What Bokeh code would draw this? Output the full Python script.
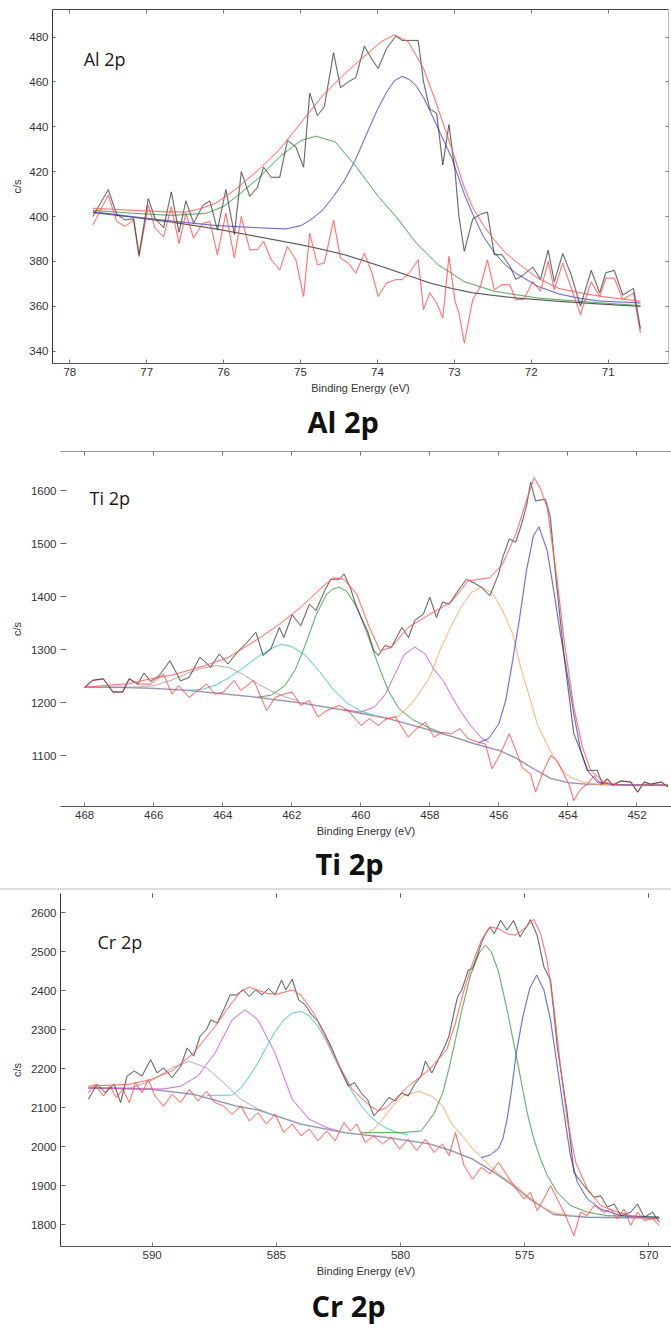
from bokeh.plotting import figure
from bokeh.models import Range1d, FixedTicker, LinearAxis, Label, Title, Div
from bokeh.layouts import column
from bokeh.embed import file_html
from bokeh.resources import INLINE

# ---------------- Al 2p ----------------
al_e = [77.70, 77.50, 77.39, 77.28, 77.17, 77.10, 76.98, 76.89, 76.78, 76.68, 76.58, 76.49, 76.39, 76.27, 76.18,
        76.08, 75.97, 75.86, 75.77, 75.66, 75.56, 75.48, 75.38, 75.27, 75.17, 75.06, 74.96, 74.88, 74.78, 74.69,
        74.57, 74.48, 74.38, 74.28, 74.17, 74.07, 73.99, 73.88, 73.76, 73.68, 73.57, 73.47, 73.40, 73.32, 73.23,
        73.15, 73.07, 72.99, 72.94, 72.87, 72.76, 72.66, 72.57, 72.48, 72.38, 72.28, 72.20, 72.10, 71.98, 71.88,
        71.78, 71.70, 71.59, 71.48, 71.36, 71.22, 71.11, 71.03, 70.92, 70.81, 70.67, 70.58]
al_raw = [400, 412, 401, 398.5, 399, 383, 408, 399, 395, 411, 393, 407, 397, 405, 407,
          394, 412, 392, 420, 409, 413, 422, 417.5, 417.5, 434, 431, 422, 455, 445, 449,
          473, 457.5, 460, 462, 476, 470, 466, 475, 480.5, 478.5, 478.5, 478.5, 460, 448, 446,
          423, 441, 420, 400, 384.5, 399, 401, 402, 383, 383, 378, 372, 374, 377.5, 372,
          385, 371, 383.5, 374, 360, 376, 366, 375, 376, 365, 368, 350]
al_res = [396.3, 409.6, 397.8, 395.6, 398.5, 382.2, 405, 394.8, 391, 404.4, 388, 401.5, 390.4, 397, 397.8,
          383, 401.5, 381.5, 400, 385.2, 385.2, 389, 380.7, 376.3, 386.7, 380.7, 364.4, 392.6, 378.5, 379.3,
          398.5, 381.5, 379.3, 374.8, 383.7, 374.8, 364.4, 370.4, 371.9, 371.9, 375.6, 380.7, 358.5, 366, 361.5,
          354.8, 382.2, 362.2, 357, 343.7, 363, 368.9, 380.7, 367.4, 369.6, 369.6, 363, 363, 371, 366.7,
          380, 367.4, 379.3, 368.1, 356.3, 371, 364.4, 372.6, 372.6, 363, 366, 348.1]
al_env_e = [77.70, 77.20, 76.80, 76.50, 76.30, 76.10, 75.85, 75.55, 75.27, 74.99, 74.71, 74.43, 74.15, 73.95, 73.78,
            73.60, 73.40, 73.26, 73.04, 72.87, 72.76, 72.62, 72.48, 72.34, 72.20, 71.92, 71.64, 71.36, 71.09, 70.80, 70.58]
al_env = [403.7, 402.8, 402.2, 402.0, 403.5, 406.0, 412.0, 420.7, 430.0, 442.0, 454.0, 463.5, 472.0, 478.0, 481.0,
          478.0, 466.0, 453.0, 431.0, 413.0, 404.0, 396.0, 389.6, 384.0, 380.0, 372.6, 368.0, 366.0, 364.4, 363.2, 362.2]
al_blue_e = [77.70, 77.20, 76.67, 76.10, 75.55, 75.19, 74.99, 74.85, 74.71, 74.57, 74.43, 74.29, 74.15, 74.01, 73.88,
             73.78, 73.68, 73.58, 73.49, 73.40, 73.32, 73.18, 73.04, 72.87, 72.76, 72.62, 72.48, 72.34, 72.20, 71.92,
             71.64, 71.36, 71.09, 70.58]
al_blue = [402.2, 400.0, 398.0, 396.0, 395.0, 394.5, 396.0, 399.0, 403.0, 409.0, 416.0, 425.0, 436.0, 447.0, 455.5,
           460.5, 462.5, 461.0, 458.0, 453.0, 447.4, 437.0, 426.7, 410.0, 401.0, 391.0, 384.0, 378.5, 374.8, 369.0,
           365.5, 363.5, 362.3, 361.5]
al_green_e = [77.70, 77.20, 76.67, 76.22, 76.00, 75.83, 75.55, 75.27, 74.99, 74.80, 74.55, 74.27, 73.99, 73.76, 73.49,
              73.21, 72.87, 72.48, 71.92, 71.09, 70.58]
al_green = [402.8, 401.5, 400.5, 401.5, 404.5, 409.0, 417.0, 426.7, 434.0, 435.8, 433.3, 422.0, 409.0, 400.0, 388.0,
            378.5, 371.0, 366.7, 363.7, 361.5, 360.3]
al_bg_e = [77.70, 77.20, 76.67, 76.10, 75.55, 74.99, 74.71, 74.43, 74.15, 73.88, 73.60, 73.32, 73.04, 72.76, 72.48,
           72.20, 71.64, 71.10, 70.58]
al_bg = [401.8, 399.8, 397.5, 394.5, 391.0, 387.4, 385.3, 383.0, 380.0, 377.0, 373.7, 370.4, 368.0, 366.0, 364.8,
         363.7, 362.2, 361.0, 360.0]
al_xticks = [71, 72, 73, 74, 75, 76, 77, 78]
al_yticks = [340, 360, 380, 400, 420, 440, 460, 480]

# ---------------- Ti 2p ----------------
ti_e = [468.00, 467.77, 467.46, 467.18, 466.90, 466.71, 466.46, 466.28, 466.09, 465.84, 465.53, 465.22, 464.97, 464.66,
        464.35, 464.10, 463.85, 463.54, 463.35, 463.04, 462.83, 462.61, 462.36, 462.23, 461.99, 461.74, 461.49, 461.30,
        461.05, 460.87, 460.62, 460.49, 460.31, 460.12, 459.93, 459.81, 459.62, 459.49, 459.30, 459.12, 458.81, 458.62,
        458.44, 458.19, 458.00, 457.81, 457.63, 457.44, 457.19, 456.94, 456.75, 456.51, 456.26, 456.01, 455.89, 455.70,
        455.51, 455.33, 455.20, 455.08, 454.94, 454.65, 454.51, 454.36, 454.12, 453.83, 453.63, 453.43, 453.15, 453.00,
        452.86, 452.70, 452.47, 452.18, 451.98, 451.79, 451.60, 451.30, 451.10]
ti_raw = [1229, 1242, 1245, 1220, 1220, 1245, 1235, 1256, 1240, 1251, 1279, 1241, 1248, 1286,
          1267, 1292, 1273, 1298, 1310, 1333, 1289, 1301, 1342, 1323, 1366, 1345, 1386, 1374,
          1411, 1433, 1433, 1443, 1418, 1380, 1352, 1336, 1298, 1289, 1308, 1304, 1342, 1323,
          1355, 1367, 1399, 1361, 1390, 1386, 1411, 1433, 1427, 1418, 1402, 1443, 1474, 1509,
          1503, 1540, 1572, 1616, 1581, 1584, 1550, 1443, 1292, 1141, 1109, 1072, 1072, 1046,
          1056, 1044, 1052, 1050, 1031, 1050, 1046, 1050, 1041]
ti_res_e = [468.00, 467.77, 467.46, 467.18, 466.90, 466.71, 466.46, 466.09, 465.72, 465.47, 465.28, 464.97, 464.78,
            464.47, 464.22, 463.98, 463.67, 463.48, 463.10, 462.73, 462.48, 462.23, 461.99, 461.74, 461.49, 461.24,
            460.99, 460.62, 460.37, 459.99, 459.75, 459.50, 459.25, 459.00, 458.63, 458.38, 458.13, 457.88, 457.63,
            457.38, 457.13, 456.89, 456.64, 456.39, 456.20, 455.96, 455.70, 455.51, 455.33, 455.08, 454.94, 454.70,
            454.50, 454.31, 454.12, 453.97, 453.83, 453.63, 453.44, 453.24, 453.05, 452.86, 452.70, 452.47, 452.18,
            451.98, 451.79, 451.60, 451.30, 451.10]
ti_res = [1229, 1242, 1245, 1220, 1220, 1245, 1235, 1235, 1254, 1216, 1232, 1210, 1220,
          1235, 1216, 1220, 1242, 1223, 1242, 1185, 1210, 1216, 1220, 1195, 1204, 1173,
          1185, 1195, 1185, 1157, 1170, 1157, 1170, 1173, 1135, 1151, 1163, 1135, 1144,
          1141, 1151, 1132, 1126, 1122, 1075, 1103, 1141, 1110, 1078, 1065, 1031, 1072,
          1100, 1090, 1065, 1046, 1015, 1037, 1046, 1062, 1046, 1056, 1044, 1052, 1050,
          1031, 1050, 1046, 1050, 1041]
ti_env_e = [468.00, 466.71, 466.09, 465.47, 464.60, 463.85, 462.98, 462.36, 461.74, 461.12, 460.80, 460.49, 460.12,
            459.75, 459.44, 459.12, 458.63, 458.00, 457.38, 456.89, 456.26, 455.89, 455.51, 455.14, 454.98, 454.80,
            454.60, 454.31, 454.11, 453.83, 453.58, 453.34, 452.96, 452.50, 451.10]
ti_env = [1229, 1236, 1245, 1252, 1268, 1285, 1320, 1348, 1380, 1418, 1436, 1433, 1405,
          1342, 1298, 1304, 1342, 1367, 1390, 1430, 1436, 1462, 1518, 1594, 1625, 1605,
          1568, 1430, 1317, 1191, 1116, 1072, 1050, 1044, 1044]
ti_bg_e = [468.0, 467.0, 466.0, 465.0, 464.2, 463.0, 461.7, 460.5, 459.2, 458.0, 457.3, 456.7, 456.0, 455.5, 455.0,
           454.5, 454.0, 453.5, 453.0, 452.0, 451.1]
ti_bg = [1229, 1229, 1227, 1223, 1218, 1210, 1199, 1186, 1170, 1148, 1135, 1122, 1110, 1095, 1075,
         1057, 1049, 1046, 1045, 1044, 1044]
ti_gray_e = [466.6, 466.0, 465.5, 465.0, 464.6, 464.2, 463.8, 463.4, 463.0, 462.6, 462.2, 461.8]
ti_gray = [1229, 1232, 1242, 1256, 1265, 1270, 1266, 1253, 1236, 1222, 1211, 1203]
ti_cyan_e = [465.0, 464.6, 464.2, 463.8, 463.4, 463.0, 462.6, 462.3, 462.0, 461.6, 461.2, 460.8, 460.4, 460.0, 459.6]
ti_cyan = [1223, 1225, 1233, 1248, 1266, 1286, 1302, 1310, 1306, 1289, 1259, 1225, 1199, 1184, 1176]
ti_green_e = [463.0, 462.6, 462.2, 461.9, 461.6, 461.3, 461.0, 460.8, 460.62, 460.4, 460.1, 459.8, 459.5, 459.2,
              458.9, 458.5, 458.0, 457.6]
ti_green = [1210, 1214, 1232, 1262, 1310, 1365, 1404, 1415, 1418, 1410, 1378, 1328, 1272, 1222,
            1189, 1168, 1152, 1141]
ti_mag_e = [460.5, 460.0, 459.6, 459.3, 459.0, 458.75, 458.44, 458.15, 457.9, 457.6, 457.35, 457.1, 456.8, 456.5, 456.3]
ti_mag = [1187, 1182, 1192, 1215, 1255, 1290, 1305, 1293, 1265, 1240, 1210, 1183, 1155, 1133, 1125]
ti_orange_e = [459.3, 458.9, 458.5, 458.0, 457.7, 457.4, 457.1, 456.8, 456.51, 456.2, 455.9, 455.6, 455.37, 455.1,
               454.89, 454.6, 454.41, 454.1, 453.92, 453.6, 453.2, 452.8]
ti_orange = [1168, 1175, 1200, 1248, 1300, 1342, 1380, 1408, 1418, 1408, 1375, 1330, 1267, 1208,
             1160, 1120, 1097, 1068, 1059, 1050, 1046, 1045]
ti_blue_e = [456.6, 456.3, 456.0, 455.8, 455.6, 455.4, 455.2, 455.0, 454.84, 454.6, 454.41, 454.22, 454.02, 453.83,
             453.63, 453.44, 453.15, 452.66, 451.1]
ti_blue = [1124, 1132, 1160, 1205, 1280, 1360, 1450, 1515, 1532, 1487, 1411, 1330, 1254, 1179,
           1109, 1072, 1050, 1045, 1044]
ti_xticks = [452, 454, 456, 458, 460, 462, 464, 466, 468]
ti_yticks = [1100, 1200, 1300, 1400, 1500, 1600]

# ---------------- Cr 2p ----------------
cr_e = [592.57, 592.22, 591.88, 591.53, 591.27, 591.01, 590.72, 590.41, 590.06, 589.80,
        589.54, 589.20, 588.85, 588.59, 588.33, 588.07, 587.81, 587.64, 587.38, 587.12,
        586.86, 586.60, 586.34, 586.09, 585.83, 585.57, 585.31, 585.05, 584.79, 584.62,
        584.36, 584.10, 583.84, 583.58, 583.32, 583.06, 582.80, 582.46, 582.11, 581.85,
        581.59, 581.33, 581.07, 580.73, 580.47, 580.21, 579.95, 579.69, 579.43, 579.17,
        579.00, 578.74, 578.48, 578.22, 578.05, 577.88, 577.70, 577.53, 577.27, 577.10,
        576.92, 576.75, 576.58, 576.40, 576.23, 575.97, 575.71, 575.45, 575.19, 574.93,
        574.77, 574.50, 574.23, 573.96, 573.69, 573.49, 573.29, 573.02, 572.62, 572.21,
        571.94, 571.67, 571.40, 571.13, 570.73, 570.46, 570.19, 569.85, 569.58]
cr_raw = [2121, 2160, 2138, 2160, 2113, 2181, 2194, 2181, 2223, 2189,
          2202, 2177, 2206, 2253, 2232, 2283, 2300, 2325, 2317, 2351,
          2389, 2389, 2402, 2385, 2402, 2389, 2406, 2389, 2427, 2402,
          2429, 2376, 2364, 2338, 2321, 2291, 2257, 2206, 2155, 2164,
          2138, 2121, 2079, 2104, 2126, 2117, 2138, 2130, 2160, 2181,
          2219, 2189, 2223, 2257, 2283, 2334, 2385, 2402, 2453, 2457,
          2487, 2521, 2546, 2563, 2546, 2580, 2555, 2580, 2538, 2563,
          2582, 2542, 2461, 2427, 2257, 2172, 2087, 1934, 1900, 1870,
          1874, 1845, 1853, 1823, 1832, 1853, 1819, 1832, 1806]
cr_res_e = [592.57, 592.31, 591.96, 591.70, 591.44, 591.18, 590.92, 590.67, 590.41, 590.15,
            589.89, 589.54, 589.20, 588.85, 588.50, 588.16, 587.81, 587.47, 587.12, 586.78,
            586.43, 586.09, 585.74, 585.40, 585.05, 584.70, 584.36, 584.01, 583.67, 583.32,
            582.97, 582.63, 582.28, 582.02, 581.76, 581.42, 581.07, 580.73, 580.38, 580.04,
            579.69, 579.35, 579.00, 578.65, 578.31, 578.05, 577.79, 577.44, 577.10, 576.75,
            576.40, 576.06, 575.71, 575.35, 575.03, 574.77, 574.50, 574.23, 573.96, 573.69,
            573.42, 573.02, 572.75, 572.48, 572.21, 571.81, 571.54, 571.27, 571.00, 570.73,
            570.46, 570.19, 569.85, 569.58]
cr_res = [2138, 2160, 2130, 2155, 2126, 2147, 2113, 2164, 2138, 2172,
          2130, 2104, 2134, 2113, 2147, 2117, 2142, 2113, 2104, 2083,
          2104, 2066, 2087, 2058, 2083, 2036, 2058, 2028, 2045, 2015,
          2040, 2015, 2062, 2040, 2058, 2011, 2028, 2007, 2024, 1994,
          2019, 1990, 2019, 1985, 2007, 1977, 2036, 1951, 1917, 1947,
          1930, 1960, 1926, 1892, 1866, 1883, 1836, 1866, 1900, 1866,
          1832, 1772, 1832, 1823, 1849, 1832, 1840, 1815, 1840, 1798,
          1832, 1811, 1815, 1798]
cr_env_e = [592.57, 590.92, 590.06, 589.20, 588.33, 587.47, 586.95, 586.43, 586.09, 585.39,
            584.96, 584.36, 584.01, 583.49, 582.97, 582.46, 581.94, 581.25, 580.90, 580.56,
            579.69, 578.83, 578.13, 577.79, 577.44, 577.10, 576.75, 576.40, 576.06, 575.71,
            575.37, 575.02, 574.64, 574.36, 574.10, 573.83, 573.56, 573.29, 572.95, 572.48,
            571.94, 571.27, 570.46, 569.58]
cr_env = [2155, 2160, 2172, 2194, 2240, 2308, 2355, 2398, 2409, 2393,
          2391, 2402, 2389, 2342, 2274, 2206, 2147, 2105, 2092, 2100,
          2155, 2198, 2250, 2317, 2402, 2470, 2529, 2563, 2559, 2546,
          2542, 2559, 2583, 2546, 2478, 2359, 2206, 2070, 1960, 1892,
          1849, 1832, 1819, 1815]
cr_bg_e = [592.57, 590.06, 588.33, 586.60, 585.74, 584.01, 582.28, 580.56, 578.83, 577.96, 577.10, 576.23, 575.37,
           574.80, 574.36, 573.83, 572.48, 569.58]
cr_bg = [2151, 2147, 2134, 2104, 2094, 2058, 2036, 2024, 2007, 1990, 1968, 1934, 1896,
         1866, 1848, 1826, 1819, 1817]
cr_gray_e = [592.57, 590.90, 590.06, 589.20, 588.50, 587.81, 587.12, 586.43, 585.74, 585.20]
cr_gray = [2151, 2150, 2168, 2202, 2219, 2202, 2164, 2121, 2097, 2082]
cr_mag_e = [592.57, 589.54, 588.85, 588.16, 587.47, 586.78, 586.26, 585.74, 585.05, 584.36, 583.67, 582.97, 582.50]
cr_mag = [2150, 2148, 2155, 2181, 2240, 2325, 2351, 2325, 2240, 2121, 2070, 2049, 2040]
cr_cyan_e = [587.81, 586.78, 586.43, 586.09, 585.74, 585.40, 585.05, 584.70, 584.36, 584.01, 583.67, 583.32, 582.97,
             582.63, 582.28, 581.94, 581.59, 581.25, 580.90, 580.56, 580.21, 579.70]
cr_cyan = [2131, 2132, 2150, 2180, 2215, 2255, 2295, 2325, 2342, 2347, 2335, 2308, 2268,
           2223, 2180, 2140, 2105, 2080, 2060, 2047, 2038, 2030]
cr_orange_e = [581.50, 581.07, 580.73, 580.30, 579.90, 579.26, 578.70, 578.30, 577.96, 577.44, 577.10, 576.40, 575.88,
               575.37, 574.85, 574.30, 573.80, 573.00]
cr_orange = [2030, 2045, 2070, 2105, 2130, 2142, 2128, 2104, 2060, 2022, 1995, 1950, 1922,
             1900, 1872, 1846, 1830, 1822]
cr_green_e = [581.60, 579.90, 579.17, 578.65, 578.30, 578.05, 577.79, 577.53, 577.18, 576.85, 576.58, 576.35, 576.06,
              575.71, 575.30, 574.90, 574.63, 574.36, 574.09, 573.69, 573.16, 572.48, 571.67, 569.58]
cr_green = [2036, 2036, 2040, 2085, 2138, 2200, 2274, 2350, 2440, 2495, 2517, 2500, 2450,
            2351, 2220, 2087, 2019, 1968, 1926, 1883, 1849, 1832, 1823, 1820]
cr_blue_e = [576.75, 576.40, 576.06, 575.88, 575.71, 575.54, 575.34, 575.07, 574.80, 574.52, 574.23, 573.96, 573.69,
             573.42, 573.16, 572.88, 572.48, 571.94, 571.13, 569.58]
cr_blue = [1972, 1978, 1995, 2020, 2070, 2140, 2240, 2335, 2405, 2440, 2402, 2325, 2206,
           2087, 1977, 1909, 1866, 1840, 1823, 1818]
cr_xticks = [570, 575, 580, 585, 590]
cr_yticks = [1800, 1900, 2000, 2100, 2200, 2300, 2400, 2500, 2600]

panel_titles = ["Al 2p", "Ti 2p", "Cr 2p"]
x_label = "Binding Energy (eV)"
y_label = "c/s"

# ---------------- styling ----------------
TICK_FONT = "Liberation Sans"
C_RAW = "#3a3a3a"
C_ENV = "#ff5a5a"
C_RES = "#ff4646"
C_BLUE = "#5050d0"
C_GREEN = "#46a050"
C_CYAN = "#46c8c8"
C_MAG = "#c864c8"
C_ORANGE = "#f5aa6c"
C_GRAY = "#aaaaaa"


def make_panel(h, xr, yr, xt, yt, borders, title, t_offset, t_standoff, ylab_standoff,
               left_line, left_tick_in, top_line, top_tick_color, right_line):
    p = figure(width=671, height=h, x_range=Range1d(*xr), y_range=Range1d(*yr),
               output_backend="svg", toolbar_location=None, title=None,
               min_border_left=borders[0], min_border_right=borders[1],
               min_border_top=borders[2], min_border_bottom=borders[3],
               x_axis_label=x_label, y_axis_label=y_label)
    p.frame_align = False
    p.outline_line_color = None
    p.grid.visible = False
    p.background_fill_color = "white"
    p.border_fill_color = "white"

    xa = p.xaxis[0]
    xa.ticker = FixedTicker(ticks=xt)
    xa.minor_tick_line_color = None
    xa.major_tick_out = 0
    xa.major_tick_in = 4
    xa.major_tick_line_color = "#777777"
    xa.axis_line_color = "#555555"
    xa.major_label_text_font = TICK_FONT
    xa.major_label_text_font_size = "11.5px"
    xa.major_label_text_color = "#333333"
    xa.major_label_standoff = 4
    xa.axis_label_standoff = 3
    xa.axis_label_text_font = TICK_FONT
    xa.axis_label_text_font_size = "11px"
    xa.axis_label_text_font_style = "normal"
    xa.axis_label_text_color = "#333333"

    ya = p.yaxis[0]
    ya.ticker = FixedTicker(ticks=yt)
    ya.minor_tick_line_color = None
    ya.major_tick_out = 0
    ya.major_tick_in = left_tick_in
    ya.major_tick_line_color = "#666666"
    ya.axis_line_color = left_line
    ya.major_label_text_font = TICK_FONT
    ya.major_label_text_font_size = "11.5px"
    ya.major_label_text_color = "#333333"
    ya.major_label_standoff = 4
    ya.axis_label_standoff = ylab_standoff
    ya.axis_label_text_font = TICK_FONT
    ya.axis_label_text_font_size = "11px"
    ya.axis_label_text_font_style = "normal"
    ya.axis_label_text_color = "#333333"

    ta = LinearAxis(ticker=FixedTicker(ticks=xt), major_label_text_font_size="0px",
                    major_label_text_color=None, major_label_standoff=0,
                    major_tick_out=0, major_tick_in=4, major_tick_line_color=top_tick_color,
                    minor_tick_line_color=None, axis_line_color=top_line)
    p.add_layout(ta, "above")
    if right_line is not None:
        ra = LinearAxis(ticker=FixedTicker(ticks=yt), major_label_text_font_size="0px",
                        major_label_text_color=None, major_label_standoff=0,
                        major_tick_out=0, major_tick_in=3, major_tick_line_color="#777777",
                        minor_tick_line_color=None, axis_line_color=right_line)
        p.add_layout(ra, "right")

    t = Title(text=title, align="left", offset=t_offset, standoff=t_standoff,
              text_font="Open Sans", text_font_size="29px", text_font_style="bold",
              text_color="#111111")
    p.add_layout(t, "below")
    return p


def draw(p, x, y, color, w=1.0, a=0.85):
    p.line(x, y, line_color=color, line_width=w + 1.2, line_alpha=0.1)
    p.line(x, y, line_color=color, line_width=w, line_alpha=a)


# Al panel (canvas rows 0-444)
p1 = make_panel(444, (78.225, 70.215), (334.5, 492.3), al_xticks, al_yticks, (52, 3, 9, 80),
                panel_titles[0], 255, 7, 3, "#333333", 3, "#444444", "#777777", "#bbbbbb")
draw(p1, al_bg_e, al_bg, "#333333")
draw(p1, al_green_e, al_green, C_GREEN)
draw(p1, al_blue_e, al_blue, C_BLUE)
draw(p1, al_e, al_res, C_RES, 0.9, 0.85)
draw(p1, al_e, al_raw, C_RAW, 0.9, 0.85)
draw(p1, al_env_e, al_env, C_ENV)
p1.add_layout(Label(x=77.82, y=470.4, text=panel_titles[0], text_font="Open Sans", text_font_size="18px",
                    text_color="#1a1a1a", text_baseline="alphabetic", text_align="left"))

# Ti panel (canvas rows 444-888)
p2 = make_panel(444, (468.70, 451.0), (1003.8, 1674.3), ti_xticks, ti_yticks, (60, 0, 7, 82),
                panel_titles[1], 255, 5, 5, None, 6, "#9a9a9a", "#777777", None)
draw(p2, ti_bg_e, ti_bg, "#8a80a8", 1.3)
draw(p2, ti_gray_e, ti_gray, C_GRAY)
draw(p2, ti_cyan_e, ti_cyan, C_CYAN)
draw(p2, ti_green_e, ti_green, C_GREEN)
draw(p2, ti_mag_e, ti_mag, C_MAG)
draw(p2, ti_orange_e, ti_orange, C_ORANGE)
draw(p2, ti_blue_e, ti_blue, C_BLUE)
draw(p2, ti_res_e, ti_res, C_RES, 0.9, 0.85)
draw(p2, ti_e, ti_raw, C_RAW, 0.9, 0.85)
draw(p2, ti_env_e, ti_env, C_ENV)
p2.add_layout(Label(x=467.86, y=1587, text=panel_titles[1], text_font="Open Sans", text_font_size="18px",
                    text_color="#1a1a1a", text_baseline="alphabetic", text_align="left"))

sep = Div(width=671, height=2, margin=(0, 0, 0, 0), styles={"background-color": "#dcdcdc"})

# Cr panel (canvas rows 890-1328)
p3 = make_panel(438, (593.69, 569.09), (1744.0, 2649.0), cr_xticks, cr_yticks, (60, 0, 3, 80),
                panel_titles[2], 251, 8, 5, "#333333", 5, None, "#555555", None)
draw(p3, cr_bg_e, cr_bg, "#7f86a8", 1.3)
draw(p3, cr_gray_e, cr_gray, C_GRAY)
draw(p3, cr_mag_e, cr_mag, C_MAG)
draw(p3, cr_cyan_e, cr_cyan, C_CYAN)
draw(p3, cr_orange_e, cr_orange, C_ORANGE)
draw(p3, cr_green_e, cr_green, C_GREEN)
draw(p3, cr_blue_e, cr_blue, C_BLUE)
draw(p3, cr_res_e, cr_res, C_RES, 0.9, 0.85)
draw(p3, cr_e, cr_raw, C_RAW, 0.9, 0.85)
draw(p3, cr_env_e, cr_env, C_ENV)
p3.add_layout(Label(x=592.2, y=2525, text=panel_titles[2], text_font="Open Sans", text_font_size="18px",
                    text_color="#1a1a1a", text_baseline="alphabetic", text_align="left"))

layout = column(p1, p2, sep, p3, spacing=0)
open("out.html", "w").write(file_html(layout, INLINE))
